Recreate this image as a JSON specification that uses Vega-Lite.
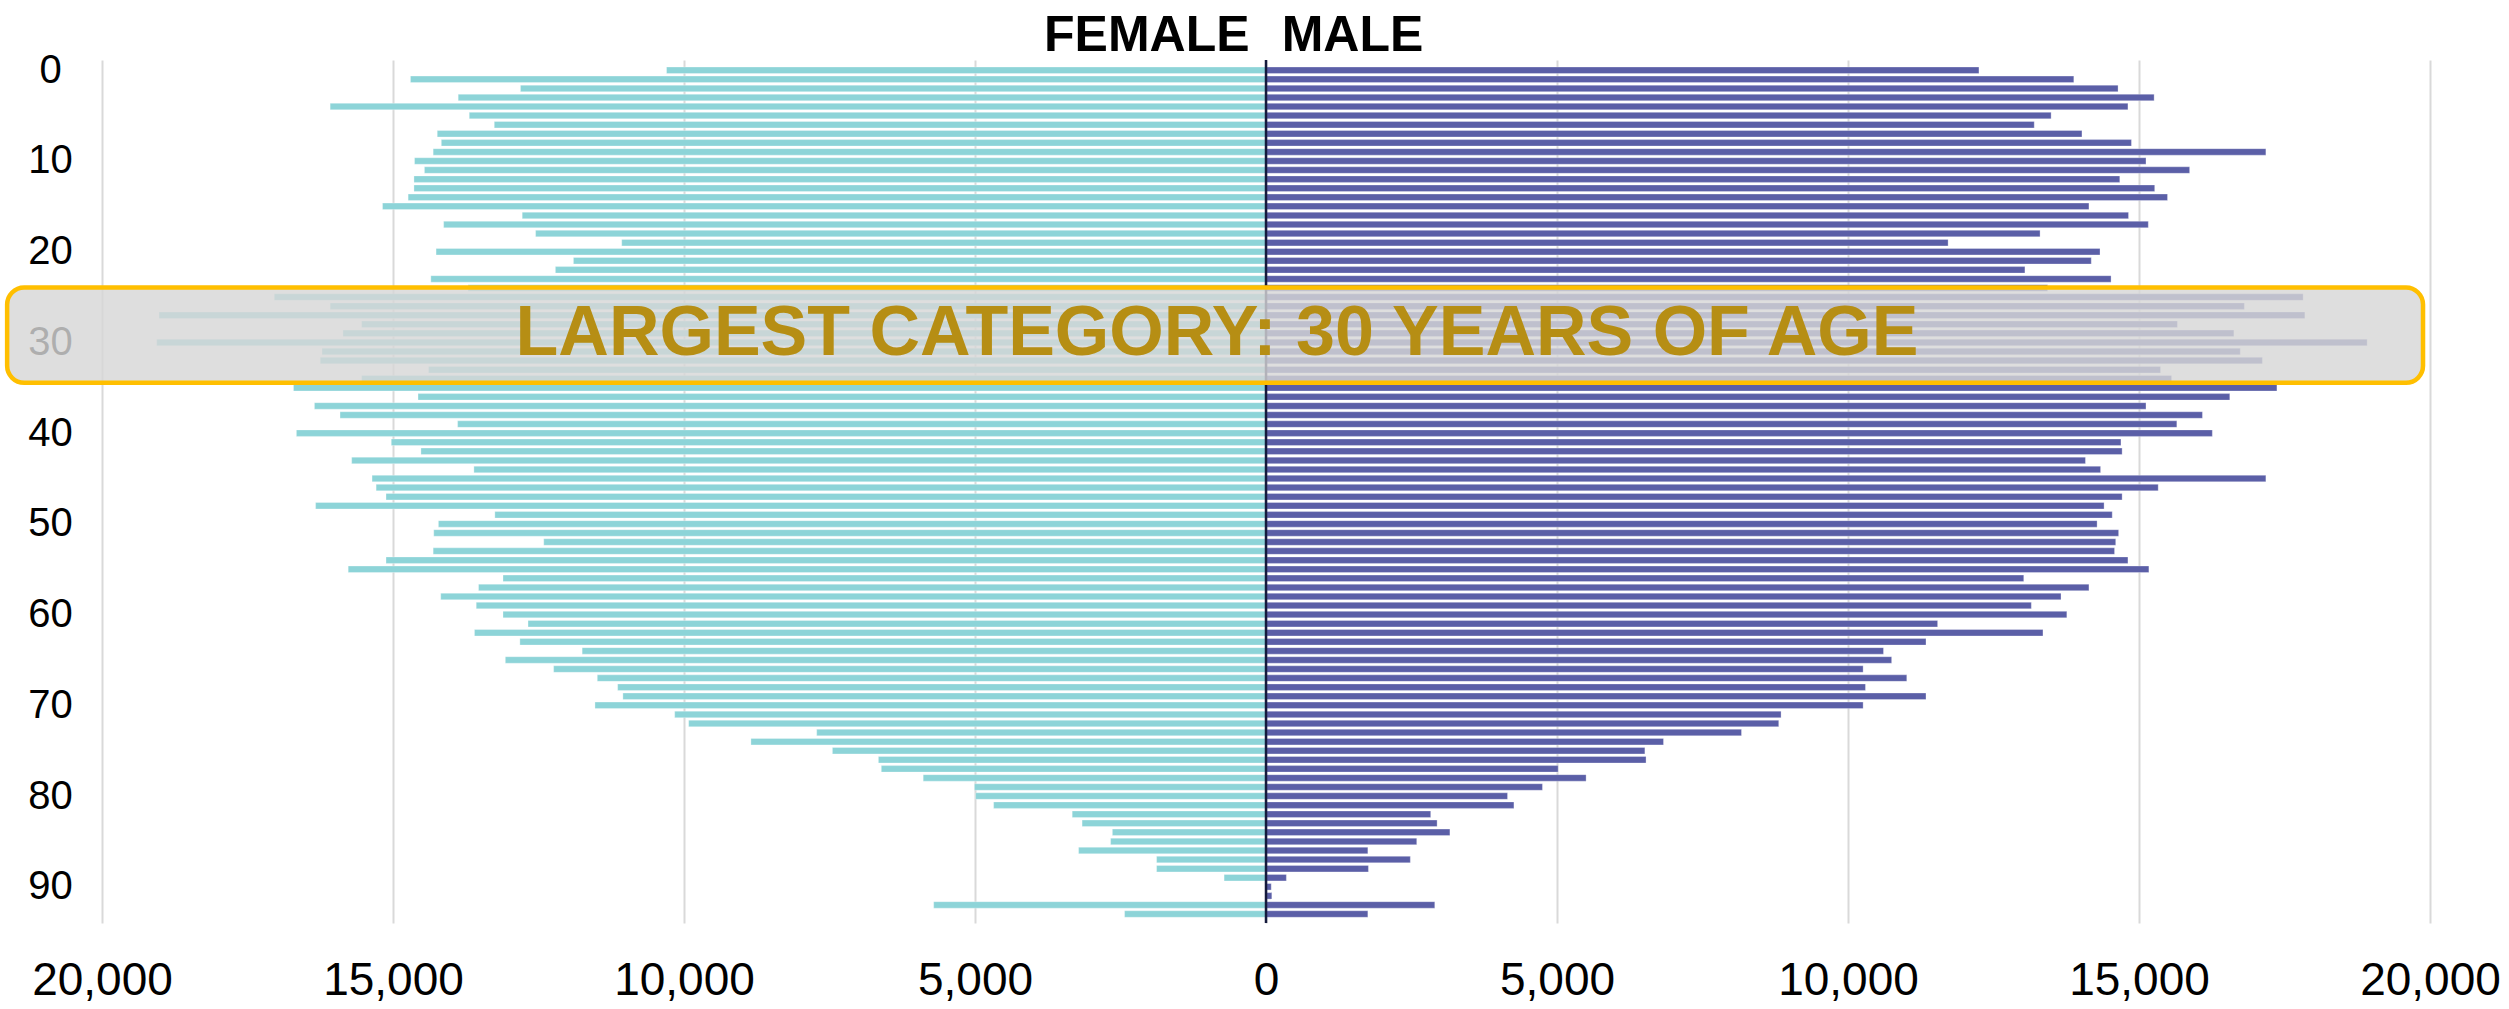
{
  "$schema": "https://vega.github.io/schema/vega-lite/v6.json",
  "width": 2328,
  "height": 863,
  "autosize": {"type": "none"},
  "padding": {"left": 102, "top": 60, "right": 79, "bottom": 86},
  "background": "white",
  "config": {"view": {"stroke": null}},
  "data": {"values": [
    {"age": 0, "female": 10300, "male": 12250},
    {"age": 1, "female": 14700, "male": 13880},
    {"age": 2, "female": 12810, "male": 14640},
    {"age": 3, "female": 13880, "male": 15260},
    {"age": 4, "female": 16080, "male": 14810},
    {"age": 5, "female": 13690, "male": 13490},
    {"age": 6, "female": 13260, "male": 13200},
    {"age": 7, "female": 14240, "male": 14020},
    {"age": 8, "female": 14170, "male": 14870},
    {"age": 9, "female": 14310, "male": 17180},
    {"age": 10, "female": 14630, "male": 15120},
    {"age": 11, "female": 14460, "male": 15870},
    {"age": 12, "female": 14640, "male": 14670},
    {"age": 13, "female": 14640, "male": 15270},
    {"age": 14, "female": 14740, "male": 15490},
    {"age": 15, "female": 15180, "male": 14140},
    {"age": 16, "female": 12780, "male": 14820},
    {"age": 17, "female": 14130, "male": 15160},
    {"age": 18, "female": 12550, "male": 13300},
    {"age": 19, "female": 11070, "male": 11720},
    {"age": 20, "female": 14260, "male": 14330},
    {"age": 21, "female": 11900, "male": 14180},
    {"age": 22, "female": 12210, "male": 13040},
    {"age": 23, "female": 14350, "male": 14520},
    {"age": 24, "female": 13710, "male": 13430},
    {"age": 25, "female": 17040, "male": 17820},
    {"age": 26, "female": 16080, "male": 16810},
    {"age": 27, "female": 19020, "male": 17850},
    {"age": 28, "female": 15540, "male": 15660},
    {"age": 29, "female": 15860, "male": 16630},
    {"age": 30, "female": 19060, "male": 18920},
    {"age": 31, "female": 16220, "male": 16740},
    {"age": 32, "female": 16250, "male": 17120},
    {"age": 33, "female": 14390, "male": 15370},
    {"age": 34, "female": 15540, "male": 15560},
    {"age": 35, "female": 16710, "male": 17370},
    {"age": 36, "female": 14570, "male": 16560},
    {"age": 37, "female": 16350, "male": 15120},
    {"age": 38, "female": 15910, "male": 16090},
    {"age": 39, "female": 13890, "male": 15650},
    {"age": 40, "female": 16660, "male": 16260},
    {"age": 41, "female": 15030, "male": 14690},
    {"age": 42, "female": 14520, "male": 14710},
    {"age": 43, "female": 15710, "male": 14080},
    {"age": 44, "female": 13610, "male": 14340},
    {"age": 45, "female": 15360, "male": 17180},
    {"age": 46, "female": 15290, "male": 15330},
    {"age": 47, "female": 15120, "male": 14710},
    {"age": 48, "female": 16330, "male": 14400},
    {"age": 49, "female": 13250, "male": 14540},
    {"age": 50, "female": 14220, "male": 14280},
    {"age": 51, "female": 14300, "male": 14650},
    {"age": 52, "female": 12410, "male": 14600},
    {"age": 53, "female": 14310, "male": 14580},
    {"age": 54, "female": 15120, "male": 14810},
    {"age": 55, "female": 15770, "male": 15170},
    {"age": 56, "female": 13110, "male": 13020},
    {"age": 57, "female": 13530, "male": 14140},
    {"age": 58, "female": 14180, "male": 13660},
    {"age": 59, "female": 13570, "male": 13150},
    {"age": 60, "female": 13110, "male": 13760},
    {"age": 61, "female": 12680, "male": 11540},
    {"age": 62, "female": 13600, "male": 13350},
    {"age": 63, "female": 12820, "male": 11340},
    {"age": 64, "female": 11750, "male": 10610},
    {"age": 65, "female": 13070, "male": 10750},
    {"age": 66, "female": 12240, "male": 10260},
    {"age": 67, "female": 11490, "male": 11010},
    {"age": 68, "female": 11140, "male": 10300},
    {"age": 69, "female": 11050, "male": 11340},
    {"age": 70, "female": 11530, "male": 10260},
    {"age": 71, "female": 10160, "male": 8850},
    {"age": 72, "female": 9920, "male": 8810},
    {"age": 73, "female": 7720, "male": 8170},
    {"age": 74, "female": 8850, "male": 6830},
    {"age": 75, "female": 7450, "male": 6510},
    {"age": 76, "female": 6660, "male": 6530},
    {"age": 77, "female": 6610, "male": 5020},
    {"age": 78, "female": 5890, "male": 5500},
    {"age": 79, "female": 5010, "male": 4750},
    {"age": 80, "female": 4990, "male": 4150},
    {"age": 81, "female": 4680, "male": 4260},
    {"age": 82, "female": 3330, "male": 2830},
    {"age": 83, "female": 3160, "male": 2940},
    {"age": 84, "female": 2640, "male": 3160},
    {"age": 85, "female": 2670, "male": 2590},
    {"age": 86, "female": 3220, "male": 1750},
    {"age": 87, "female": 1880, "male": 2480},
    {"age": 88, "female": 1880, "male": 1760},
    {"age": 89, "female": 720, "male": 350},
    {"age": 90, "female": 0, "male": 90},
    {"age": 91, "female": 0, "male": 100},
    {"age": 92, "female": 5710, "male": 2900},
    {"age": 93, "female": 2430, "male": 1750}
  ]},
  "layer": [
    {
      "mark": {"type": "bar", "orient": "horizontal", "height": 6.5, "color": "#8DD4D8", "stroke": "#ffffff", "strokeOpacity": 0.3, "strokeWidth": 1},
      "encoding": {
        "y": {"field": "age", "type": "quantitative", "title": null,
              "scale": {"domain": [-0.58, 93.44], "reverse": true, "nice": false, "zero": false},
              "axis": {"values": [0, 10, 20, 30, 40, 50, 60, 70, 80, 90], "grid": false, "domain": false, "ticks": false,
                       "labelFont": "Liberation Sans", "labelFontSize": 40, "labelColor": "#000000",
                       "labelAlign": "center", "labelPadding": 52}},
        "x": {"field": "female", "type": "quantitative", "scale": {"domain": [-20000, 20000], "reverse": true, "nice": false}, "axis": null}
      }
    },
    {
      "mark": {"type": "bar", "orient": "horizontal", "height": 6.5, "color": "#5B5FA7", "stroke": "#ffffff", "strokeOpacity": 0.3, "strokeWidth": 1},
      "encoding": {
        "y": {"field": "age", "type": "quantitative", "title": null},
        "x": {"field": "male", "type": "quantitative", "title": null, "scale": {"domain": [-20000, 20000], "nice": false},
              "axis": {"values": [-20000, -15000, -10000, -5000, 0, 5000, 10000, 15000, 20000],
                       "labelExpr": "format(abs(datum.value), ',')", "grid": true, "gridColor": "#d9d9d9", "gridWidth": 2,
                       "domain": false, "ticks": false, "labelFont": "Liberation Sans", "labelFontSize": 46,
                       "labelColor": "#000000", "labelPadding": 35, "labelFlush": false}}
      }
    },
    {
      "data": {"values": [{}]},
      "mark": {"type": "rule", "color": "#151a3c", "strokeWidth": 2.5},
      "encoding": {
        "x": {"datum": 0, "type": "quantitative", "scale": {"domain": [-20000, 20000], "nice": false}, "axis": null}
      }
    },
    {
      "data": {"values": [{}]},
      "mark": {"type": "rect", "fill": "#d6d6d6", "fillOpacity": 0.81, "stroke": "#FFBF00", "strokeWidth": 4.5, "cornerRadius": 17},
      "encoding": {
        "x": {"datum": -21630, "type": "quantitative", "scale": {"domain": [-20000, 20000], "nice": false}, "axis": null},
        "x2": {"datum": 19880},
        "y": {"datum": 23.95, "type": "quantitative", "title": null},
        "y2": {"datum": 34.45}
      }
    },
    {
      "data": {"values": [{}]},
      "mark": {"type": "text", "font": "Liberation Sans", "fontSize": 70, "fontWeight": "bold", "color": "#B68E14", "align": "center", "baseline": "middle"},
      "encoding": {
        "x": {"datum": -842, "type": "quantitative", "scale": {"domain": [-20000, 20000], "nice": false}, "axis": null},
        "y": {"datum": 29.05, "type": "quantitative", "title": null},
        "text": {"value": "LARGEST CATEGORY: 30 YEARS OF AGE"}
      }
    },
    {
      "data": {"values": [{}]},
      "mark": {"type": "text", "font": "Liberation Sans", "fontSize": 50, "fontWeight": "bold", "color": "#000000", "align": "right", "baseline": "alphabetic", "clip": false},
      "encoding": {
        "x": {"datum": -282, "type": "quantitative", "scale": {"domain": [-20000, 20000], "nice": false}, "axis": null},
        "y": {"datum": -2.1, "type": "quantitative", "title": null},
        "text": {"value": "FEMALE"}
      }
    },
    {
      "data": {"values": [{}]},
      "mark": {"type": "text", "font": "Liberation Sans", "fontSize": 50, "fontWeight": "bold", "color": "#000000", "align": "left", "baseline": "alphabetic", "clip": false},
      "encoding": {
        "x": {"datum": 270, "type": "quantitative", "scale": {"domain": [-20000, 20000], "nice": false}, "axis": null},
        "y": {"datum": -2.1, "type": "quantitative", "title": null},
        "text": {"value": "MALE"}
      }
    }
  ],
  "resolve": {"scale": {"x": "independent"}, "axis": {"x": "independent"}}
}
